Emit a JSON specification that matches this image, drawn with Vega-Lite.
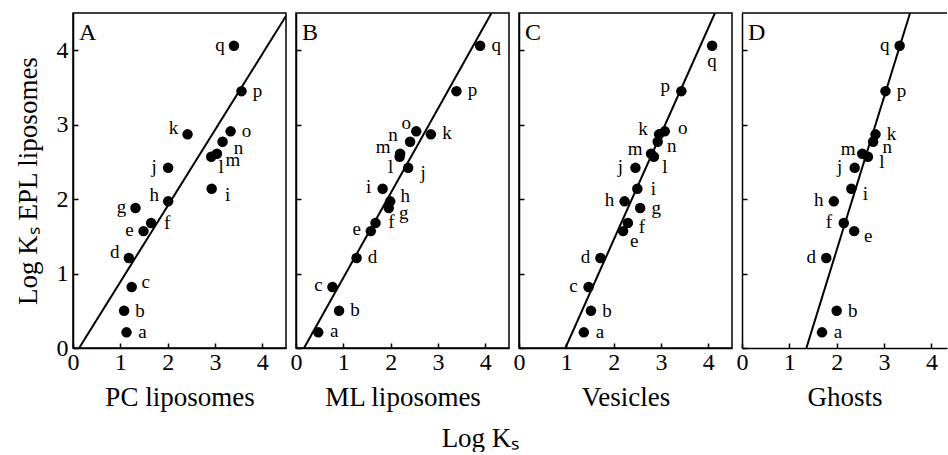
{
  "$schema": "https://vega.github.io/schema/vega-lite/v6.json",
  "autosize": {"type": "pad"},
  "padding": {"left": 13, "top": 12, "right": 0, "bottom": 0},
  "spacing": 10,
  "bounds": "flush",
  "title": {"text": "Log Kₛ", "orient": "bottom", "anchor": "middle", "font": "Liberation Serif", "fontSize": 27, "fontWeight": "normal", "color": "black", "offset": 15},
  "config": {
    "view": {"stroke": "black", "strokeWidth": 1.5},
    "font": "Liberation Serif",
    "axis": {"grid": false, "domainColor": "black", "domainWidth": 1.5, "tickColor": "black", "tickWidth": 1.5, "tickSize": -5, "labelFont": "Liberation Serif", "labelFontSize": 24, "labelColor": "black", "titleFont": "Liberation Serif", "titleFontSize": 27, "titleFontWeight": "normal", "titleColor": "black", "labelFlush": false, "labelOverlap": false}
  },
  "datasets": {
    "pts": [
      {"panel": "A", "label": "a", "x": 1.13, "y": 0.21},
      {"panel": "A", "label": "b", "x": 1.08, "y": 0.50},
      {"panel": "A", "label": "c", "x": 1.24, "y": 0.82},
      {"panel": "A", "label": "d", "x": 1.18, "y": 1.21},
      {"panel": "A", "label": "e", "x": 1.49, "y": 1.57},
      {"panel": "A", "label": "f", "x": 1.65, "y": 1.68},
      {"panel": "A", "label": "g", "x": 1.32, "y": 1.88},
      {"panel": "A", "label": "h", "x": 2.01, "y": 1.97},
      {"panel": "A", "label": "i", "x": 2.93, "y": 2.14},
      {"panel": "A", "label": "j", "x": 2.01, "y": 2.42},
      {"panel": "A", "label": "k", "x": 2.42, "y": 2.87},
      {"panel": "A", "label": "l", "x": 2.92, "y": 2.57},
      {"panel": "A", "label": "m", "x": 3.04, "y": 2.61},
      {"panel": "A", "label": "n", "x": 3.16, "y": 2.77},
      {"panel": "A", "label": "o", "x": 3.33, "y": 2.91},
      {"panel": "A", "label": "p", "x": 3.56, "y": 3.45},
      {"panel": "A", "label": "q", "x": 3.40, "y": 4.06},
      {"panel": "B", "label": "a", "x": 0.47, "y": 0.21},
      {"panel": "B", "label": "b", "x": 0.91, "y": 0.50},
      {"panel": "B", "label": "c", "x": 0.77, "y": 0.82},
      {"panel": "B", "label": "d", "x": 1.28, "y": 1.21},
      {"panel": "B", "label": "e", "x": 1.58, "y": 1.57},
      {"panel": "B", "label": "f", "x": 1.68, "y": 1.68},
      {"panel": "B", "label": "g", "x": 1.96, "y": 1.88},
      {"panel": "B", "label": "h", "x": 1.99, "y": 1.97},
      {"panel": "B", "label": "i", "x": 1.83, "y": 2.14},
      {"panel": "B", "label": "j", "x": 2.37, "y": 2.42},
      {"panel": "B", "label": "k", "x": 2.85, "y": 2.87},
      {"panel": "B", "label": "l", "x": 2.19, "y": 2.57},
      {"panel": "B", "label": "m", "x": 2.20, "y": 2.61},
      {"panel": "B", "label": "n", "x": 2.41, "y": 2.77},
      {"panel": "B", "label": "o", "x": 2.54, "y": 2.91},
      {"panel": "B", "label": "p", "x": 3.39, "y": 3.45},
      {"panel": "B", "label": "q", "x": 3.89, "y": 4.06},
      {"panel": "C", "label": "a", "x": 1.37, "y": 0.21},
      {"panel": "C", "label": "b", "x": 1.52, "y": 0.50},
      {"panel": "C", "label": "c", "x": 1.47, "y": 0.82},
      {"panel": "C", "label": "d", "x": 1.72, "y": 1.21},
      {"panel": "C", "label": "e", "x": 2.20, "y": 1.57},
      {"panel": "C", "label": "f", "x": 2.30, "y": 1.68},
      {"panel": "C", "label": "g", "x": 2.56, "y": 1.88},
      {"panel": "C", "label": "h", "x": 2.23, "y": 1.97},
      {"panel": "C", "label": "i", "x": 2.50, "y": 2.14},
      {"panel": "C", "label": "j", "x": 2.46, "y": 2.42},
      {"panel": "C", "label": "k", "x": 2.96, "y": 2.87},
      {"panel": "C", "label": "l", "x": 2.85, "y": 2.57},
      {"panel": "C", "label": "m", "x": 2.79, "y": 2.61},
      {"panel": "C", "label": "n", "x": 2.93, "y": 2.77},
      {"panel": "C", "label": "o", "x": 3.08, "y": 2.91},
      {"panel": "C", "label": "p", "x": 3.43, "y": 3.45},
      {"panel": "C", "label": "q", "x": 4.08, "y": 4.06},
      {"panel": "D", "label": "a", "x": 1.69, "y": 0.21},
      {"panel": "D", "label": "b", "x": 2.00, "y": 0.50},
      {"panel": "D", "label": "d", "x": 1.78, "y": 1.21},
      {"panel": "D", "label": "e", "x": 2.37, "y": 1.57},
      {"panel": "D", "label": "f", "x": 2.15, "y": 1.68},
      {"panel": "D", "label": "h", "x": 1.94, "y": 1.97},
      {"panel": "D", "label": "i", "x": 2.31, "y": 2.14},
      {"panel": "D", "label": "j", "x": 2.38, "y": 2.42},
      {"panel": "D", "label": "k", "x": 2.82, "y": 2.87},
      {"panel": "D", "label": "l", "x": 2.66, "y": 2.57},
      {"panel": "D", "label": "m", "x": 2.54, "y": 2.61},
      {"panel": "D", "label": "n", "x": 2.77, "y": 2.77},
      {"panel": "D", "label": "p", "x": 3.03, "y": 3.45},
      {"panel": "D", "label": "q", "x": 3.33, "y": 4.06}
    ],
    "fits": [
      {"panel": "A", "x": 0.13, "y": 0, "x2": 4.5, "y2": 4.46},
      {"panel": "B", "x": 0.17, "y": 0, "x2": 4.13, "y2": 4.5},
      {"panel": "C", "x": 0.98, "y": 0, "x2": 4.14, "y2": 4.5},
      {"panel": "D", "x": 1.36, "y": 0, "x2": 3.55, "y2": 4.5}
    ]
  },
  "hconcat": [
    {
      "width": 213, "height": 335,
      "layer": [
        {"data": {"name": "fits"}, "transform": [{"filter": "datum.panel === 'A'"}],
         "mark": {"type": "rule", "color": "black", "strokeWidth": 2, "clip": true},
         "encoding": {
           "x": {"field": "x", "type": "quantitative", "scale": {"domain": [0, 4.5], "nice": false, "zero": false},
                 "axis": {"values": [0, 0.5, 1, 1.5, 2, 2.5, 3, 3.5, 4, 4.5], "labelExpr": "datum.value % 1 === 0 ? format(datum.value, 'd') : ''", "title": "PC liposomes", "labelPadding": 7, "titlePadding": 10}},
           "y": {"field": "y", "type": "quantitative", "scale": {"domain": [0, 4.5], "nice": false, "zero": false},
                 "axis": {"values": [0, 0.5, 1, 1.5, 2, 2.5, 3, 3.5, 4, 4.5], "labelExpr": "datum.value % 1 === 0 ? format(datum.value, 'd') : ''", "title": "Log Kₛ  EPL liposomes", "labelPadding": 10, "titlePadding": 14}},
           "x2": {"field": "x2"}, "y2": {"field": "y2"}}},
        {"data": {"name": "pts"}, "transform": [{"filter": "datum.panel === 'A'"}],
         "mark": {"type": "circle", "size": 110, "color": "black", "opacity": 1},
         "encoding": {"x": {"field": "x", "type": "quantitative"}, "y": {"field": "y", "type": "quantitative"}}},
        {"data": {"name": "pts"}, "transform": [{"filter": "datum.panel === 'A' && indexof(['a','b','f','o','p'], datum.label) >= 0"}],
         "mark": {"type": "text", "font": "Liberation Serif", "fontSize": 19, "color": "black", "align": "center", "baseline": "middle", "dx": 16, "dy": 0},
         "encoding": {"x": {"field": "x", "type": "quantitative"}, "y": {"field": "y", "type": "quantitative"}, "text": {"field": "label"}}},
        {"data": {"name": "pts"}, "transform": [{"filter": "datum.panel === 'A' && indexof(['e','g','j','q'], datum.label) >= 0"}],
         "mark": {"type": "text", "font": "Liberation Serif", "fontSize": 19, "color": "black", "align": "center", "baseline": "middle", "dx": -14, "dy": -1},
         "encoding": {"x": {"field": "x", "type": "quantitative"}, "y": {"field": "y", "type": "quantitative"}, "text": {"field": "label"}}},
        {"data": {"name": "pts"}, "transform": [{"filter": "datum.panel === 'A' && indexof(['c'], datum.label) >= 0"}],
         "mark": {"type": "text", "font": "Liberation Serif", "fontSize": 19, "color": "black", "align": "center", "baseline": "middle", "dx": 14, "dy": -5},
         "encoding": {"x": {"field": "x", "type": "quantitative"}, "y": {"field": "y", "type": "quantitative"}, "text": {"field": "label"}}},
        {"data": {"name": "pts"}, "transform": [{"filter": "datum.panel === 'A' && indexof(['d','h','k'], datum.label) >= 0"}],
         "mark": {"type": "text", "font": "Liberation Serif", "fontSize": 19, "color": "black", "align": "center", "baseline": "middle", "dx": -14, "dy": -6},
         "encoding": {"x": {"field": "x", "type": "quantitative"}, "y": {"field": "y", "type": "quantitative"}, "text": {"field": "label"}}},
        {"data": {"name": "pts"}, "transform": [{"filter": "datum.panel === 'A' && indexof(['i','n','m'], datum.label) >= 0"}],
         "mark": {"type": "text", "font": "Liberation Serif", "fontSize": 19, "color": "black", "align": "center", "baseline": "middle", "dx": 16, "dy": 6},
         "encoding": {"x": {"field": "x", "type": "quantitative"}, "y": {"field": "y", "type": "quantitative"}, "text": {"field": "label"}}},
        {"data": {"name": "pts"}, "transform": [{"filter": "datum.panel === 'A' && indexof(['l'], datum.label) >= 0"}],
         "mark": {"type": "text", "font": "Liberation Serif", "fontSize": 19, "color": "black", "align": "center", "baseline": "middle", "dx": 10, "dy": 10},
         "encoding": {"x": {"field": "x", "type": "quantitative"}, "y": {"field": "y", "type": "quantitative"}, "text": {"field": "label"}}},
        {"data": {"values": [{"t": "A"}]},
         "mark": {"type": "text", "font": "Liberation Serif", "fontSize": 24, "color": "black", "align": "left", "baseline": "alphabetic", "dx": 6, "dy": 27},
         "encoding": {"x": {"datum": 0}, "y": {"datum": 4.5}, "text": {"field": "t"}}}
      ]
    },
    {
      "width": 213, "height": 335,
      "layer": [
        {"data": {"name": "fits"}, "transform": [{"filter": "datum.panel === 'B'"}],
         "mark": {"type": "rule", "color": "black", "strokeWidth": 2, "clip": true},
         "encoding": {
           "x": {"field": "x", "type": "quantitative", "scale": {"domain": [0, 4.5], "nice": false, "zero": false},
                 "axis": {"values": [0, 0.5, 1, 1.5, 2, 2.5, 3, 3.5, 4, 4.5], "labelExpr": "datum.value % 1 === 0 ? format(datum.value, 'd') : ''", "title": "ML liposomes", "labelPadding": 7, "titlePadding": 10}},
           "y": {"field": "y", "type": "quantitative", "scale": {"domain": [0, 4.5], "nice": false, "zero": false},
                 "axis": {"values": [0, 0.5, 1, 1.5, 2, 2.5, 3, 3.5, 4, 4.5], "labels": false, "title": null}},
           "x2": {"field": "x2"}, "y2": {"field": "y2"}}},
        {"data": {"name": "pts"}, "transform": [{"filter": "datum.panel === 'B'"}],
         "mark": {"type": "circle", "size": 110, "color": "black", "opacity": 1},
         "encoding": {"x": {"field": "x", "type": "quantitative"}, "y": {"field": "y", "type": "quantitative"}}},
        {"data": {"name": "pts"}, "transform": [{"filter": "datum.panel === 'B' && indexof(['a','b','d','f','k','p','q'], datum.label) >= 0"}],
         "mark": {"type": "text", "font": "Liberation Serif", "fontSize": 19, "color": "black", "align": "center", "baseline": "middle", "dx": 16, "dy": -1},
         "encoding": {"x": {"field": "x", "type": "quantitative"}, "y": {"field": "y", "type": "quantitative"}, "text": {"field": "label"}}},
        {"data": {"name": "pts"}, "transform": [{"filter": "datum.panel === 'B' && indexof(['c','e','i'], datum.label) >= 0"}],
         "mark": {"type": "text", "font": "Liberation Serif", "fontSize": 19, "color": "black", "align": "center", "baseline": "middle", "dx": -14, "dy": -2},
         "encoding": {"x": {"field": "x", "type": "quantitative"}, "y": {"field": "y", "type": "quantitative"}, "text": {"field": "label"}}},
        {"data": {"name": "pts"}, "transform": [{"filter": "datum.panel === 'B' && indexof(['h'], datum.label) >= 0"}],
         "mark": {"type": "text", "font": "Liberation Serif", "fontSize": 19, "color": "black", "align": "center", "baseline": "middle", "dx": 15, "dy": -5},
         "encoding": {"x": {"field": "x", "type": "quantitative"}, "y": {"field": "y", "type": "quantitative"}, "text": {"field": "label"}}},
        {"data": {"name": "pts"}, "transform": [{"filter": "datum.panel === 'B' && indexof(['g','j'], datum.label) >= 0"}],
         "mark": {"type": "text", "font": "Liberation Serif", "fontSize": 19, "color": "black", "align": "center", "baseline": "middle", "dx": 15, "dy": 5},
         "encoding": {"x": {"field": "x", "type": "quantitative"}, "y": {"field": "y", "type": "quantitative"}, "text": {"field": "label"}}},
        {"data": {"name": "pts"}, "transform": [{"filter": "datum.panel === 'B' && indexof(['l'], datum.label) >= 0"}],
         "mark": {"type": "text", "font": "Liberation Serif", "fontSize": 19, "color": "black", "align": "center", "baseline": "middle", "dx": -9, "dy": 10},
         "encoding": {"x": {"field": "x", "type": "quantitative"}, "y": {"field": "y", "type": "quantitative"}, "text": {"field": "label"}}},
        {"data": {"name": "pts"}, "transform": [{"filter": "datum.panel === 'B' && indexof(['m','n'], datum.label) >= 0"}],
         "mark": {"type": "text", "font": "Liberation Serif", "fontSize": 19, "color": "black", "align": "center", "baseline": "middle", "dx": -17, "dy": -7},
         "encoding": {"x": {"field": "x", "type": "quantitative"}, "y": {"field": "y", "type": "quantitative"}, "text": {"field": "label"}}},
        {"data": {"name": "pts"}, "transform": [{"filter": "datum.panel === 'B' && indexof(['o'], datum.label) >= 0"}],
         "mark": {"type": "text", "font": "Liberation Serif", "fontSize": 19, "color": "black", "align": "center", "baseline": "middle", "dx": -10, "dy": -8},
         "encoding": {"x": {"field": "x", "type": "quantitative"}, "y": {"field": "y", "type": "quantitative"}, "text": {"field": "label"}}},
        {"data": {"values": [{"t": "B"}]},
         "mark": {"type": "text", "font": "Liberation Serif", "fontSize": 24, "color": "black", "align": "left", "baseline": "alphabetic", "dx": 6, "dy": 27},
         "encoding": {"x": {"datum": 0}, "y": {"datum": 4.5}, "text": {"field": "t"}}}
      ]
    },
    {
      "width": 213, "height": 335,
      "layer": [
        {"data": {"name": "fits"}, "transform": [{"filter": "datum.panel === 'C'"}],
         "mark": {"type": "rule", "color": "black", "strokeWidth": 2, "clip": true},
         "encoding": {
           "x": {"field": "x", "type": "quantitative", "scale": {"domain": [0, 4.5], "nice": false, "zero": false},
                 "axis": {"values": [0, 0.5, 1, 1.5, 2, 2.5, 3, 3.5, 4, 4.5], "labelExpr": "datum.value % 1 === 0 ? format(datum.value, 'd') : ''", "title": "Vesicles", "labelPadding": 7, "titlePadding": 10}},
           "y": {"field": "y", "type": "quantitative", "scale": {"domain": [0, 4.5], "nice": false, "zero": false},
                 "axis": {"values": [0, 0.5, 1, 1.5, 2, 2.5, 3, 3.5, 4, 4.5], "labels": false, "title": null}},
           "x2": {"field": "x2"}, "y2": {"field": "y2"}}},
        {"data": {"name": "pts"}, "transform": [{"filter": "datum.panel === 'C'"}],
         "mark": {"type": "circle", "size": 110, "color": "black", "opacity": 1},
         "encoding": {"x": {"field": "x", "type": "quantitative"}, "y": {"field": "y", "type": "quantitative"}}},
        {"data": {"name": "pts"}, "transform": [{"filter": "datum.panel === 'C' && indexof(['a','b','g','i'], datum.label) >= 0"}],
         "mark": {"type": "text", "font": "Liberation Serif", "fontSize": 19, "color": "black", "align": "center", "baseline": "middle", "dx": 16, "dy": 0},
         "encoding": {"x": {"field": "x", "type": "quantitative"}, "y": {"field": "y", "type": "quantitative"}, "text": {"field": "label"}}},
        {"data": {"name": "pts"}, "transform": [{"filter": "datum.panel === 'C' && indexof(['c','d','h','j'], datum.label) >= 0"}],
         "mark": {"type": "text", "font": "Liberation Serif", "fontSize": 19, "color": "black", "align": "center", "baseline": "middle", "dx": -15, "dy": -1},
         "encoding": {"x": {"field": "x", "type": "quantitative"}, "y": {"field": "y", "type": "quantitative"}, "text": {"field": "label"}}},
        {"data": {"name": "pts"}, "transform": [{"filter": "datum.panel === 'C' && indexof(['o'], datum.label) >= 0"}],
         "mark": {"type": "text", "font": "Liberation Serif", "fontSize": 19, "color": "black", "align": "center", "baseline": "middle", "dx": 18, "dy": -3},
         "encoding": {"x": {"field": "x", "type": "quantitative"}, "y": {"field": "y", "type": "quantitative"}, "text": {"field": "label"}}},
        {"data": {"name": "pts"}, "transform": [{"filter": "datum.panel === 'C' && indexof(['k','m','p'], datum.label) >= 0"}],
         "mark": {"type": "text", "font": "Liberation Serif", "fontSize": 19, "color": "black", "align": "center", "baseline": "middle", "dx": -16, "dy": -5},
         "encoding": {"x": {"field": "x", "type": "quantitative"}, "y": {"field": "y", "type": "quantitative"}, "text": {"field": "label"}}},
        {"data": {"name": "pts"}, "transform": [{"filter": "datum.panel === 'C' && indexof(['f','n'], datum.label) >= 0"}],
         "mark": {"type": "text", "font": "Liberation Serif", "fontSize": 19, "color": "black", "align": "center", "baseline": "middle", "dx": 14, "dy": 4},
         "encoding": {"x": {"field": "x", "type": "quantitative"}, "y": {"field": "y", "type": "quantitative"}, "text": {"field": "label"}}},
        {"data": {"name": "pts"}, "transform": [{"filter": "datum.panel === 'C' && indexof(['e','l'], datum.label) >= 0"}],
         "mark": {"type": "text", "font": "Liberation Serif", "fontSize": 19, "color": "black", "align": "center", "baseline": "middle", "dx": 11, "dy": 10},
         "encoding": {"x": {"field": "x", "type": "quantitative"}, "y": {"field": "y", "type": "quantitative"}, "text": {"field": "label"}}},
        {"data": {"name": "pts"}, "transform": [{"filter": "datum.panel === 'C' && indexof(['q'], datum.label) >= 0"}],
         "mark": {"type": "text", "font": "Liberation Serif", "fontSize": 19, "color": "black", "align": "center", "baseline": "middle", "dx": 0, "dy": 15},
         "encoding": {"x": {"field": "x", "type": "quantitative"}, "y": {"field": "y", "type": "quantitative"}, "text": {"field": "label"}}},
        {"data": {"values": [{"t": "C"}]},
         "mark": {"type": "text", "font": "Liberation Serif", "fontSize": 24, "color": "black", "align": "left", "baseline": "alphabetic", "dx": 6, "dy": 27},
         "encoding": {"x": {"datum": 0}, "y": {"datum": 4.5}, "text": {"field": "t"}}}
      ]
    },
    {
      "width": 205, "height": 335,
      "view": {"stroke": null},
      "layer": [
        {"data": {"name": "fits"}, "transform": [{"filter": "datum.panel === 'D'"}],
         "mark": {"type": "rule", "color": "black", "strokeWidth": 2, "clip": true},
         "encoding": {
           "x": {"field": "x", "type": "quantitative", "scale": {"domain": [0, 4.33], "nice": false, "zero": false},
                 "axis": {"values": [0, 0.5, 1, 1.5, 2, 2.5, 3, 3.5, 4], "labelExpr": "datum.value % 1 === 0 ? format(datum.value, 'd') : ''", "title": "Ghosts", "labelPadding": 7, "titlePadding": 10}},
           "y": {"field": "y", "type": "quantitative", "scale": {"domain": [0, 4.5], "nice": false, "zero": false},
                 "axis": {"values": [0, 0.5, 1, 1.5, 2, 2.5, 3, 3.5, 4, 4.5], "labels": false, "title": null}},
           "x2": {"field": "x2"}, "y2": {"field": "y2"}}},
        {"data": {"values": [{}]},
         "mark": {"type": "rule", "color": "black", "strokeWidth": 1.5},
         "encoding": {"y": {"datum": 4.5}}},
        {"data": {"name": "pts"}, "transform": [{"filter": "datum.panel === 'D'"}],
         "mark": {"type": "circle", "size": 110, "color": "black", "opacity": 1},
         "encoding": {"x": {"field": "x", "type": "quantitative"}, "y": {"field": "y", "type": "quantitative"}}},
        {"data": {"name": "pts"}, "transform": [{"filter": "datum.panel === 'D' && indexof(['a','b','k','p'], datum.label) >= 0"}],
         "mark": {"type": "text", "font": "Liberation Serif", "fontSize": 19, "color": "black", "align": "center", "baseline": "middle", "dx": 16, "dy": 0},
         "encoding": {"x": {"field": "x", "type": "quantitative"}, "y": {"field": "y", "type": "quantitative"}, "text": {"field": "label"}}},
        {"data": {"name": "pts"}, "transform": [{"filter": "datum.panel === 'D' && indexof(['d','f','h','j','q'], datum.label) >= 0"}],
         "mark": {"type": "text", "font": "Liberation Serif", "fontSize": 19, "color": "black", "align": "center", "baseline": "middle", "dx": -15, "dy": -1},
         "encoding": {"x": {"field": "x", "type": "quantitative"}, "y": {"field": "y", "type": "quantitative"}, "text": {"field": "label"}}},
        {"data": {"name": "pts"}, "transform": [{"filter": "datum.panel === 'D' && indexof(['m'], datum.label) >= 0"}],
         "mark": {"type": "text", "font": "Liberation Serif", "fontSize": 19, "color": "black", "align": "center", "baseline": "middle", "dx": -14, "dy": -5},
         "encoding": {"x": {"field": "x", "type": "quantitative"}, "y": {"field": "y", "type": "quantitative"}, "text": {"field": "label"}}},
        {"data": {"name": "pts"}, "transform": [{"filter": "datum.panel === 'D' && indexof(['e','i','l','n'], datum.label) >= 0"}],
         "mark": {"type": "text", "font": "Liberation Serif", "fontSize": 19, "color": "black", "align": "center", "baseline": "middle", "dx": 14, "dy": 5},
         "encoding": {"x": {"field": "x", "type": "quantitative"}, "y": {"field": "y", "type": "quantitative"}, "text": {"field": "label"}}},
        {"data": {"values": [{"t": "D"}]},
         "mark": {"type": "text", "font": "Liberation Serif", "fontSize": 24, "color": "black", "align": "left", "baseline": "alphabetic", "dx": 6, "dy": 27},
         "encoding": {"x": {"datum": 0}, "y": {"datum": 4.5}, "text": {"field": "t"}}}
      ]
    }
  ]
}
